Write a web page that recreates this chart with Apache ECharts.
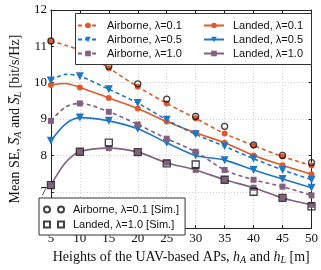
<!DOCTYPE html>
<html><head><meta charset="utf-8">
<script src="https://cdn.jsdelivr.net/npm/echarts@6/dist/echarts.min.js"></script>
<style>html,body{margin:0;padding:0;background:#fff}#c{width:321px;height:270px}</style>
</head><body><div id="c"></div>
<script>
// Heights (m)
var heights = [5, 7.5, 10, 15, 20, 25, 30, 35, 40, 45, 50];
var airborne01 = [11.15, 11.03, 10.89, 10.4, 9.89, 9.43, 9.02, 8.6, 8.27, 7.97, 7.72];
var landed01   = [9.94, 9.98, 9.87, 9.58, 9.29, 8.93, 8.62, 8.35, 8.0, 7.73, 7.48];
var airborne05 = [10.06, 10.23, 10.18, 9.82, 9.44, 8.98, 8.58, 8.25, 7.91, 7.6, 7.33];
var landed05   = [8.4, 8.86, 9.04, 8.95, 8.73, 8.35, 8.0, 7.87, 7.6, 7.35, 7.11];
var airborne10 = [8.95, 9.33, 9.43, 9.2, 8.85, 8.46, 8.1, 7.6, 7.33, 7.14, 6.9];
var landed10   = [7.18, 7.8, 8.1, 8.2, 8.09, 7.8, 7.6, 7.33, 7.11, 6.83, 6.64];
// Simulation points
var simHeights = [5, 10, 15, 20, 25, 30, 35, 40, 45, 50];
var simAirborne01 = [11.15, 10.95, 10.45, 9.97, 9.55, 9.07, 8.8, 8.29, 8.0, 7.8];
var simLanded10   = [7.18, 8.1, 8.35, 8.09, 7.78, 7.75, 7.33, 7.0, 6.83, 6.6];
var xTicks = [5, 10, 15, 20, 25, 30, 35, 40, 45, 50];
var yTicks = [6, 7, 8, 9, 10, 11, 12];

var names = ['Airborne, λ=0.1', 'Landed, λ=0.1', 'Airborne, λ=0.5', 'Landed, λ=0.5', 'Airborne, λ=1.0', 'Landed, λ=1.0'];
var simNames = ['Airborne, λ=0.1 [Sim.]', 'Landed, λ=1.0 [Sim.]'];
var ORANGE = '#E0592A', BLUE = '#1f77c4', PURPLE = '#82607f';

function pairs(xs, ys) { return xs.map(function (x, i) { return [x, ys[i]]; }); }
function curveData(xs, ys) {
  return xs.map(function (x, i) {
    return (x % 5 === 0) ? { value: [x, ys[i]] } : { value: [x, ys[i]], symbol: 'none' };
  });
}
function lineSeries(name, ys, color, dashed, sym, size, rot) {
  return {
    type: 'line', name: name, data: curveData(heights, ys), smooth: 0.3,
    symbol: sym, symbolSize: size, symbolRotate: rot || 0, showAllSymbol: true,
    lineStyle: { color: color, width: 1.6, type: dashed ? [4, 3] : 'solid' },
    itemStyle: { color: color }, z: 2
  };
}
var serif = 'Liberation Serif';
var sans = 'Liberation Sans';
var chart = echarts.init(document.getElementById('c'), null, { renderer: 'canvas' });
var axisLine = { show: true, lineStyle: { color: '#222', width: 1 } };
var splitLine = { show: true, lineStyle: { color: '#cfcfcf', type: [1, 2], width: 1 } };
var twoCircles = 'path://M0,3a3,3 0 1,0 6,0a3,3 0 1,0 -6,0z M14,3a3,3 0 1,0 6,0a3,3 0 1,0 -6,0z';
var twoSquares = 'path://M0,0h6v6h-6z M14,0h6v6h-6z';
var legendText = { fontFamily: sans, fontSize: 11, color: '#111', padding: [0, 0, 0, 4] };
chart.setOption({
  animation: false,
  grid: { left: 37, right: 9, top: 10, bottom: 35 },
  xAxis: [{
    type: 'value', min: 5, max: 50, interval: 5,
    axisLine: axisLine, axisTick: { inside: true, length: 3, lineStyle: { color: '#222' } },
    axisLabel: { color: '#111', fontFamily: serif, fontSize: 13, margin: 4,
      formatter: function (v) { return xTicks.indexOf(v) >= 0 ? String(v) : ''; } },
    splitLine: splitLine,
    name: '{n|Heights of the UAV-based APs, }{i|h}{s|A}{n| and }{i|h}{s|L}{n| [m]}',
    nameLocation: 'middle', nameGap: 18,
    nameTextStyle: { rich: {
      n: { fontFamily: serif, fontSize: 14, color: '#111' },
      i: { fontFamily: serif, fontSize: 14, fontStyle: 'italic', color: '#111' },
      s: { fontFamily: serif, fontSize: 10, fontStyle: 'italic', color: '#111', verticalAlign: 'bottom', padding: [6, 0, 0, 0] }
    } }
  }, {
    type: 'value', position: 'top', min: 5, max: 50, interval: 5,
    axisLine: axisLine, axisTick: { inside: true, length: 3, lineStyle: { color: '#222' } },
    axisLabel: { show: false }, splitLine: { show: false }
  }],
  yAxis: [{
    type: 'value', min: 6, max: 12, interval: 1,
    axisLine: axisLine, axisTick: { inside: true, length: 3, lineStyle: { color: '#222' } },
    axisLabel: { color: '#111', fontFamily: serif, fontSize: 13, margin: 4,
      formatter: function (v) { return yTicks.indexOf(v) >= 0 ? String(v) : ''; } },
    splitLine: splitLine,
    name: '{n|Mean SE, }{i|S\u0305}{s|A}{n| and }{i|S\u0305}{s|L}{n| [bit/s/Hz]}',
    nameLocation: 'middle', nameGap: 21,
    nameTextStyle: { rich: {
      n: { fontFamily: serif, fontSize: 14, color: '#111' },
      i: { fontFamily: serif, fontSize: 14, fontStyle: 'italic', color: '#111' },
      s: { fontFamily: serif, fontSize: 10, fontStyle: 'italic', color: '#111', verticalAlign: 'bottom', padding: [6, 0, 0, 0] }
    } }
  }, {
    type: 'value', position: 'right', min: 6, max: 12, interval: 1,
    axisLine: axisLine, axisTick: { inside: true, length: 3, lineStyle: { color: '#222' } },
    axisLabel: { show: false }, splitLine: { show: false }
  }],
  legend: [{
    orient: 'vertical', left: 77, top: 20, itemWidth: 20, itemHeight: 7, itemGap: 3,
    data: [names[0], names[2], names[4]], z: 10,
    textStyle: legendText, padding: 0
  }, {
    orient: 'vertical', left: 203, top: 20, itemWidth: 20, itemHeight: 7, itemGap: 3,
    data: [names[1], names[3], names[5]], z: 10,
    textStyle: legendText, padding: 0
  }, {
    orient: 'vertical', left: 39, top: 198, itemWidth: 20, itemHeight: 6, itemGap: 4, z: 10,
    data: [{ name: simNames[0], icon: twoCircles }, { name: simNames[1], icon: twoSquares }],
    backgroundColor: '#fff', borderColor: '#333', borderWidth: 1,
    padding: [6, 6, 5, 4],
    textStyle: legendText
  }],
  graphic: [{
    type: 'rect', left: 75, top: 13, z: 9, silent: true,
    shape: { width: 236, height: 51 },
    style: { fill: '#fff', stroke: '#333', lineWidth: 1 }
  }],
  series: [
    lineSeries(names[0], airborne01, ORANGE, true, 'circle', 6),
    lineSeries(names[1], landed01, ORANGE, false, 'circle', 6),
    lineSeries(names[2], airborne05, BLUE, true, 'triangle', 8, 180),
    lineSeries(names[3], landed05, BLUE, false, 'triangle', 8, 180),
    lineSeries(names[4], airborne10, PURPLE, true, 'rect', 6),
    lineSeries(names[5], landed10, PURPLE, false, 'rect', 6),
    { type: 'scatter', name: simNames[0], data: pairs(simHeights, simAirborne01), symbol: 'circle', symbolSize: 6,
      itemStyle: { color: 'rgba(255,255,255,0)', borderColor: '#111', borderWidth: 1.3 }, z: 3 },
    { type: 'scatter', name: simNames[1], data: pairs(simHeights, simLanded10), symbol: 'rect', symbolSize: 7,
      itemStyle: { color: 'rgba(255,255,255,0)', borderColor: '#111', borderWidth: 1.3 }, z: 3 }
  ]
});
</script></body></html>
